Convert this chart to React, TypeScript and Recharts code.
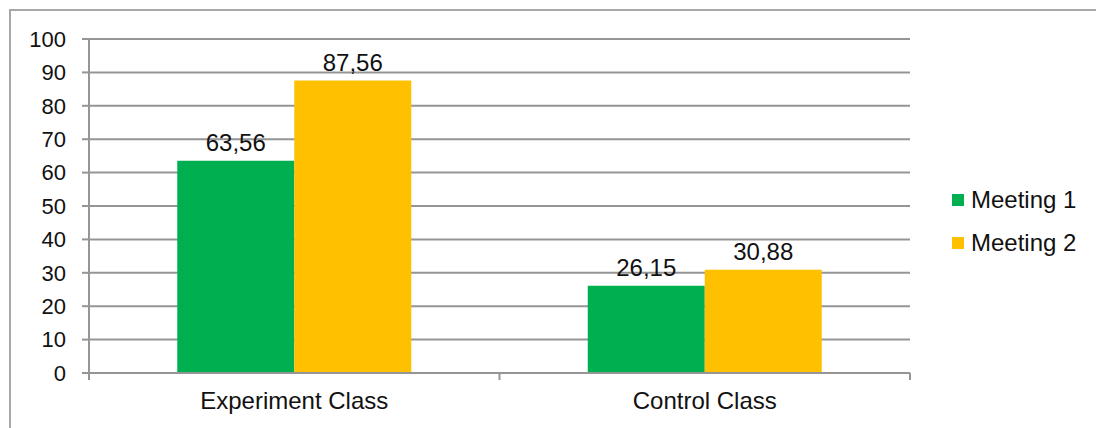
import { BarChart, Bar, XAxis, YAxis, CartesianGrid, LabelList } from 'recharts';

const categories = ['Experiment Class', 'Control Class'];
const meeting1 = [63.56, 26.15];
const meeting2 = [87.56, 30.88];
const yTicks = [0, 10, 20, 30, 40, 50, 60, 70, 80, 90, 100];
const seriesNames = ['Meeting 1', 'Meeting 2'];
const seriesColors = ['#00B050', '#FFC000'];

const data = categories.map((name, i) => ({ name, m1: meeting1[i], m2: meeting2[i] }));

const FONT = '"Liberation Sans", Arial, sans-serif';
const TEXT = '#111';
const GRID = '#959595';

const fmt = (v: any) => Number(v).toFixed(2).replace('.', ',');

// category label in the middle, tick marks on the category boundaries (Excel style)
const CatTick = (props: any) => {
  const { x, y, payload, width, visibleTicksCount, index } = props;
  const half = width / (visibleTicksCount || categories.length) / 2;
  const last = index === (visibleTicksCount || categories.length) - 1;
  return (
    <g>
      <line x1={x - half} x2={x - half} y1={y} y2={y + 7} stroke={GRID} strokeWidth={2} />
      {last && <line x1={x + half} x2={x + half} y1={y} y2={y + 7} stroke={GRID} strokeWidth={2} />}
      <text x={x} y={y + 19} dy="0.71em" textAnchor="middle" fill={TEXT} fontSize={24} fontFamily={FONT}>
        {payload.value}
      </text>
    </g>
  );
};

export default function App() {
  return (
    <div style={{ position: 'absolute', left: 0, top: 0, width: 1096, height: 428, overflow: 'hidden', background: '#fff', fontFamily: FONT }}>
      <div style={{ position: 'absolute', left: 9, top: 9, width: 1200, height: 600, border: '2px solid #a8a8a8' }} />
      <div style={{ position: 'absolute', left: 0, top: 0 }}>
        <BarChart
          width={1096}
          height={428}
          data={data}
          margin={{ top: 39, right: 186, bottom: 0, left: 29 }}
          barGap={0}
          barCategoryGap="21.5%"
        >
          <CartesianGrid vertical={false} stroke={GRID} strokeWidth={2} />
          <XAxis
            dataKey="name"
            height={55}
            interval={0}
            tick={<CatTick />}
            tickSize={0}
            tickMargin={0}
            tickLine={false}
            axisLine={{ stroke: GRID, strokeWidth: 2 }}
          />
          <YAxis
            width={60}
            domain={[0, 100]}
            ticks={yTicks}
            interval={0}
            tickSize={7}
            tickMargin={16}
            axisLine={{ stroke: GRID, strokeWidth: 2 }}
            tickLine={{ stroke: GRID, strokeWidth: 2 }}
            tick={{ fill: TEXT, fontSize: 22, fontFamily: FONT }}
          />
          <Bar dataKey="m1" name={seriesNames[0]} fill={seriesColors[0]} isAnimationActive={false}>
            <LabelList dataKey="m1" position="top" offset={10} formatter={fmt} fill={TEXT} fontSize={24} fontFamily={FONT} />
          </Bar>
          <Bar dataKey="m2" name={seriesNames[1]} fill={seriesColors[1]} isAnimationActive={false}>
            <LabelList dataKey="m2" position="top" offset={10} formatter={fmt} fill={TEXT} fontSize={24} fontFamily={FONT} />
          </Bar>
        </BarChart>
      </div>
      <div style={{ position: 'absolute', left: 952, top: 186 }}>
        {seriesNames.map((n, i) => (
          <div key={n} style={{ display: 'flex', alignItems: 'center', height: 28, marginBottom: i === 0 ? 15 : 0 }}>
            <span style={{ width: 12, height: 12, background: seriesColors[i], display: 'inline-block', marginRight: 7 }} />
            <span style={{ fontSize: 24, color: TEXT, whiteSpace: 'nowrap' }}>{n}</span>
          </div>
        ))}
      </div>
    </div>
  );
}
